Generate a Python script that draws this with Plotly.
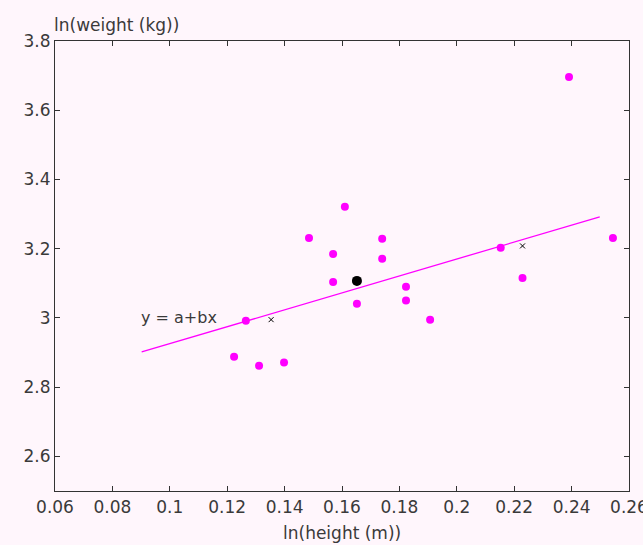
import plotly.graph_objects as go

# data points (ln height, ln weight)
dots_x = [0.2391, 0.1610, 0.1485, 0.1740, 0.1569, 0.1740, 0.1569, 0.1823, 0.1823,
          0.1652, 0.1907, 0.1265, 0.1224, 0.1311, 0.1398, 0.2153, 0.2229, 0.2544]
dots_y = [3.696, 3.321, 3.231, 3.229, 3.185, 3.171, 3.104, 3.090, 3.050,
          3.041, 2.995, 2.992, 2.888, 2.862, 2.871, 3.203, 3.115, 3.231]
mean_x = [0.1652]
mean_y = [3.107]
cross_x = [0.1353, 0.2229]
cross_y = [2.995, 3.208]
line_x = [0.0902, 0.2498]
line_y = [2.9016, 3.292]

x_ticks = [0.06, 0.08, 0.1, 0.12, 0.14, 0.16, 0.18, 0.2, 0.22, 0.24, 0.26]
x_labels = ["0.06", "0.08", "0.1", "0.12", "0.14", "0.16", "0.18", "0.2", "0.22", "0.24", "0.26"]
y_ticks = [2.6, 2.8, 3.0, 3.2, 3.4, 3.6, 3.8]
y_labels = ["2.6", "2.8", "3", "3.2", "3.4", "3.6", "3.8"]

bg = "#fff6fc"
font = "DejaVu Sans, Verdana, sans-serif"
txtcol = "#3a3a3a"

fig = go.Figure()
fig.add_trace(go.Scatter(x=line_x, y=line_y, mode="lines",
                         line=dict(color="#ff00ff", width=1.3), hoverinfo="skip"))
fig.add_trace(go.Scatter(x=dots_x, y=dots_y, mode="markers",
                         marker=dict(color="#ff00ff", size=8)))
fig.add_trace(go.Scatter(x=mean_x, y=mean_y, mode="markers",
                         marker=dict(color="black", size=10)))
fig.add_trace(go.Scatter(x=cross_x, y=cross_y, mode="markers",
                         marker=dict(color="black", size=5, symbol="x-thin",
                                     line=dict(color="black", width=1))))

axis_common = dict(showgrid=False, zeroline=False, showline=True, mirror="ticks",
                   linecolor="#333333", linewidth=1.2, ticks="inside", ticklen=5,
                   tickcolor="#333333", tickfont=dict(family=font, size=17, color=txtcol),
                   ticklabeloverflow="allow", automargin=False)

fig.update_layout(
    width=643, height=545,
    margin=dict(l=55, r=14, t=41, b=54),
    paper_bgcolor=bg, plot_bgcolor=bg,
    showlegend=False,
    xaxis=dict(range=[0.06, 0.26], tickvals=x_ticks, ticktext=x_labels, **axis_common),
    yaxis=dict(range=[2.5, 3.8], tickvals=y_ticks, ticktext=y_labels,
               ticklabelstandoff=0, **axis_common),
    annotations=[
        dict(text="ln(weight (kg))", xref="paper", yref="paper", x=0, y=1,
             xanchor="left", yanchor="bottom", yshift=4, xshift=-3, showarrow=False,
             font=dict(family=font, size=17, color=txtcol)),
        dict(text="ln(height (m))", xref="paper", yref="paper", x=0.5, y=0,
             xanchor="center", yanchor="middle", yshift=-42, xshift=0, showarrow=False,
             font=dict(family=font, size=17, color=txtcol)),
        dict(text="y = a+bx", xref="x", yref="y", x=0.0902, y=3.0,
             xanchor="left", yanchor="middle", xshift=-3, showarrow=False,
             font=dict(family=font, size=16, color=txtcol)),
    ],
)

fig.write_html("out.html", config={"displayModeBar": False},
               post_script="document.body.style.margin='0';document.body.style.background='%s';" % bg)
